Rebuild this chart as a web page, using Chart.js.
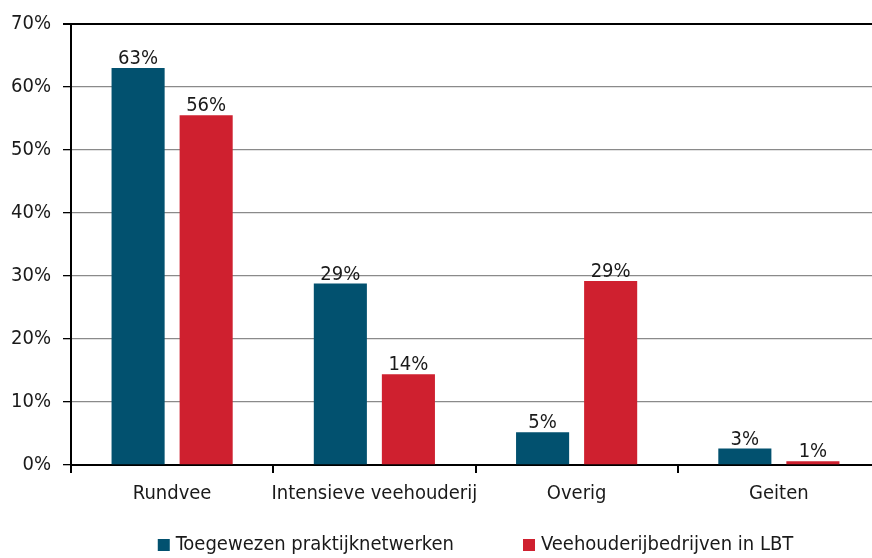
<!DOCTYPE html>
<html><head><meta charset="utf-8">
<script src="https://cdn.jsdelivr.net/npm/chart.js@4"></script>
<style>
html,body{margin:0;padding:0;background:#fff;overflow:hidden;width:872px;height:558px;}
#wrap{position:absolute;left:0;top:0;width:880px;height:558px;}
</style></head>
<body>
<div id="wrap"><canvas id="c" width="880" height="558"></canvas></div>
<script>
const categories = ['Rundvee', 'Intensieve veehouderij', 'Overig', 'Geiten'];
const seriesNames = ['Toegewezen praktijknetwerken', 'Veehouderijbedrijven in LBT'];
const praktijk = [63.0, 28.8, 5.2, 2.6];
const lbt = [55.5, 14.4, 29.2, 0.6];
const labelsPraktijk = ['63%', '29%', '5%', '3%'];
const labelsLbt = ['56%', '14%', '29%', '1%'];
const yTicks = [0, 10, 20, 30, 40, 50, 60, 70];

const FONT = "'DejaVu Sans Condensed', 'Liberation Sans', Arial, sans-serif";
const FS = 20;
const BLUE = '#02516f';
const RED = '#cf202f';
const TXT = '#1a1a1a';

const barLabels = {
  id: 'barLabels',
  afterDatasetsDraw(chart) {
    const ctx = chart.ctx;
    const lbls = [labelsPraktijk, labelsLbt];
    ctx.save();
    ctx.font = FS + 'px ' + FONT;
    ctx.fillStyle = TXT;
    ctx.textAlign = 'center';
    ctx.textBaseline = 'alphabetic';
    chart.data.datasets.forEach((ds, i) => {
      chart.getDatasetMeta(i).data.forEach((bar, j) => {
        ctx.fillText(lbls[i][j], bar.x, bar.y - 4);
      });
    });
    ctx.restore();
  }
};

const customLegend = {
  id: 'customLegend',
  afterDraw(chart) {
    const ctx = chart.ctx;
    const ca = chart.chartArea;
    ctx.save();
    ctx.font = FS + 'px ' + FONT;
    ctx.textBaseline = 'middle';
    ctx.textAlign = 'left';
    const box = 12, gapText = 6, gapItem = 69;
    const items = chart.data.datasets.map(ds => ({ text: ds.label, color: ds.backgroundColor, w: ctx.measureText(ds.label).width }));
    const total = items.reduce((a, it) => a + box + gapText + it.w, 0) + gapItem * (items.length - 1);
    let x = (ca.left + ca.right) / 2 - total / 2;
    const yc = 545;
    items.forEach(it => {
      ctx.fillStyle = it.color;
      ctx.fillRect(x, yc - box / 2, box, box);
      x += box + gapText;
      ctx.fillStyle = TXT;
      ctx.fillText(it.text, x, yc);
      x += it.w + gapItem;
    });
    ctx.restore();
  }
};

new Chart(document.getElementById('c'), {
  type: 'bar',
  data: {
    labels: categories,
    datasets: [
      { label: seriesNames[0], data: praktijk, backgroundColor: BLUE, borderWidth: 0 },
      { label: seriesNames[1], data: lbt, backgroundColor: RED, borderWidth: 0 }
    ]
  },
  options: {
    responsive: false,
    animation: false,
    devicePixelRatio: 1,
    categoryPercentage: 0.673,
    barPercentage: 0.78,
    layout: { padding: { top: 22, right: 0, left: 0, bottom: 0 } },
    plugins: {
      tooltip: { enabled: false },
      legend: { display: false }
    },
    scales: {
      x: {
        offset: true,
        grid: { display: true, drawOnChartArea: false, offset: true, tickLength: 8, color: '#000', tickColor: '#000', lineWidth: 2 },
        border: { color: '#000', width: 2 },
        ticks: { font: { family: FONT, size: FS }, color: TXT, padding: 9, maxRotation: 0, minRotation: 0, autoSkip: false },
        afterFit(s) { s.height = 93; }
      },
      y: {
        min: 0, max: 70,
        afterBuildTicks(s) { s.ticks = yTicks.map(v => ({ value: v })); },
        grid: {
          color: c => (c.tick && c.tick.value === 70) ? '#000' : '#8a8a8a',
          lineWidth: c => (c.tick && c.tick.value === 70) ? 2 : 1.3,
          tickColor: '#000',
          tickLength: 8
        },
        border: { color: '#000', width: 2 },
        ticks: { font: { family: FONT, size: FS }, color: TXT, padding: 12, callback: v => v + '%' },
        afterFit(s) { s.width = 71; }
      }
    }
  },
  plugins: [barLabels, customLegend]
});
</script>
</body></html>
